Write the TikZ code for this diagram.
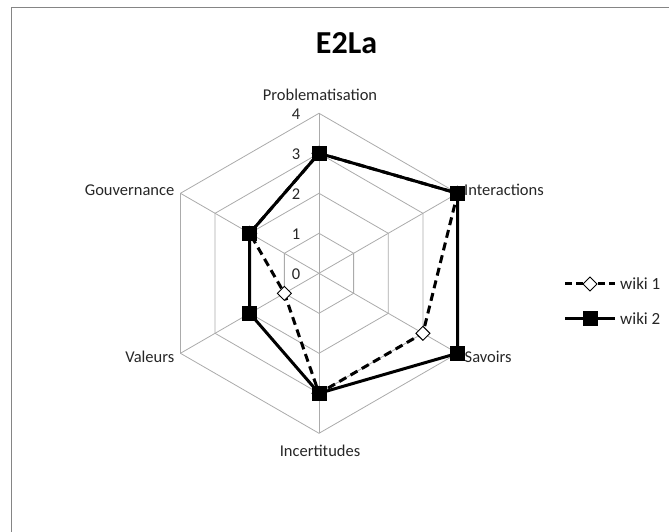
\documentclass[tikz,border=0pt]{standalone}
\usepackage{fontspec}
\setmainfont{Carlito}
\usetikzlibrary{calc}
\begin{document}
\begin{tikzpicture}[x=1pt,y=1pt,
  grid/.style={draw=black!33, line width=0.8pt},
  frame/.style={draw=black!48, line width=1.2pt},
  axlabel/.style={font=\fontsize{16.5}{18}\selectfont, text=black!85, inner sep=0pt},
  ticklabel/.style={font=\fontsize{16.5}{18}\selectfont, text=black!85, inner sep=0pt},
  wikione/.style={draw=black, line width=3pt, dash pattern=on 8pt off 5pt},
  wikitwo/.style={draw=black, line width=3pt},
  diamondmark/.style={draw=black, fill=white, line width=0.9pt},
  squaremark/.style={fill=black, minimum size=15pt, inner sep=0pt, rectangle},
  legtext/.style={font=\fontsize{17}{19}\selectfont, text=black!85, anchor=west, inner sep=0pt}
]
\useasboundingbox (0,0) rectangle (669,532);
% frame (right and bottom edges lie outside the picture)
\draw[frame] (11.5,-20) -- (11.5,524.5) -- (700,524.5);

% title
\node[font=\fontsize{32}{36}\selectfont\bfseries, inner sep=0pt] (title) at (346.5,489) {E2La};

\begin{scope}[shift={(319,258.7)}]
  \coordinate (O) at (0,0);
  % grid hexagons
  \foreach \r in {40,80,120,160} {
    \draw[grid] (90:\r) -- (30:\r) -- (-30:\r) -- (-90:\r) -- (210:\r) -- (150:\r) -- cycle;
  }
  \foreach \a/\n in {90/P,30/I,-30/S,-90/U,210/V,150/G} {
    \coordinate (\n4) at (\a:160);
    \draw[grid] (O) -- (\n4);
  }
  % tick labels
  \foreach \k in {0,1,2,3,4} {
    \node[ticklabel] (t\k) at (-23,{40*\k-0.5}) {\k};
  }
  % axis labels
  \node[axlabel] (lP) at (1,178.5) {Problematisation};
  \node[axlabel, anchor=west] (lI) at (145,83.3) {Interactions};
  \node[axlabel, anchor=west] (lS) at (145.5,-83.3) {Savoirs};
  \node[axlabel] (lU) at (1,-177.5) {Incertitudes};
  \node[axlabel, anchor=east] (lV) at (-144.5,-83.3) {Valeurs};
  \node[axlabel, anchor=east] (lG) at (-144.5,83.3) {Gouvernance};

  % wiki 1 data: 3,4,3,3,1,2
  \coordinate (a1) at (90:120);
  \coordinate (a2) at (30:160);
  \coordinate (a3) at (-30:120);
  \coordinate (a4) at (-90:120);
  \coordinate (a5) at (210:40);
  \coordinate (a6) at (150:80);
  \draw[wikione] (a1) -- (a2) -- (a3) -- (a4) -- (a5) -- (a6) -- cycle;
  \foreach \p in {a1,a2,a3,a4,a5,a6} {
    \draw[diamondmark] ($(\p)+(0,7)$) -- ($(\p)+(7,0)$) -- ($(\p)+(0,-7)$) -- ($(\p)+(-7,0)$) -- cycle;
  }
  % wiki 2 data: 3,4,4,3,2,2
  \coordinate (b1) at (90:120);
  \coordinate (b2) at (30:160);
  \coordinate (b3) at (-30:160);
  \coordinate (b4) at (-90:120);
  \coordinate (b5) at (210:80);
  \coordinate (b6) at (150:80);
  \draw[wikitwo] (b1) -- (b2) -- (b3) -- (b4) -- (b5) -- (b6) -- cycle;
  \foreach \p in {b1,b2,b3,b4,b5,b6} {
    \node[squaremark] (m\p) at (\p) {};
  }
\end{scope}

% legend
\coordinate (l1a) at (565,248);
\coordinate (l1b) at (615,248);
\coordinate (l2a) at (565,213.7);
\coordinate (l2b) at (615,213.7);
\draw[wikione, dash pattern=on 7pt off 4pt] (l1a) -- (l1b);
\draw[diamondmark] (590,255) -- (597,248) -- (590,241) -- (583,248) -- cycle;
\draw[wikitwo] (l2a) -- (l2b);
\node[squaremark] (leg2m) at (590.5,213.7) {};
\node[legtext] (leg1) at (620,248) {wiki 1};
\node[legtext] (leg2) at (620,213.7) {wiki 2};
\end{tikzpicture}
\end{document}
